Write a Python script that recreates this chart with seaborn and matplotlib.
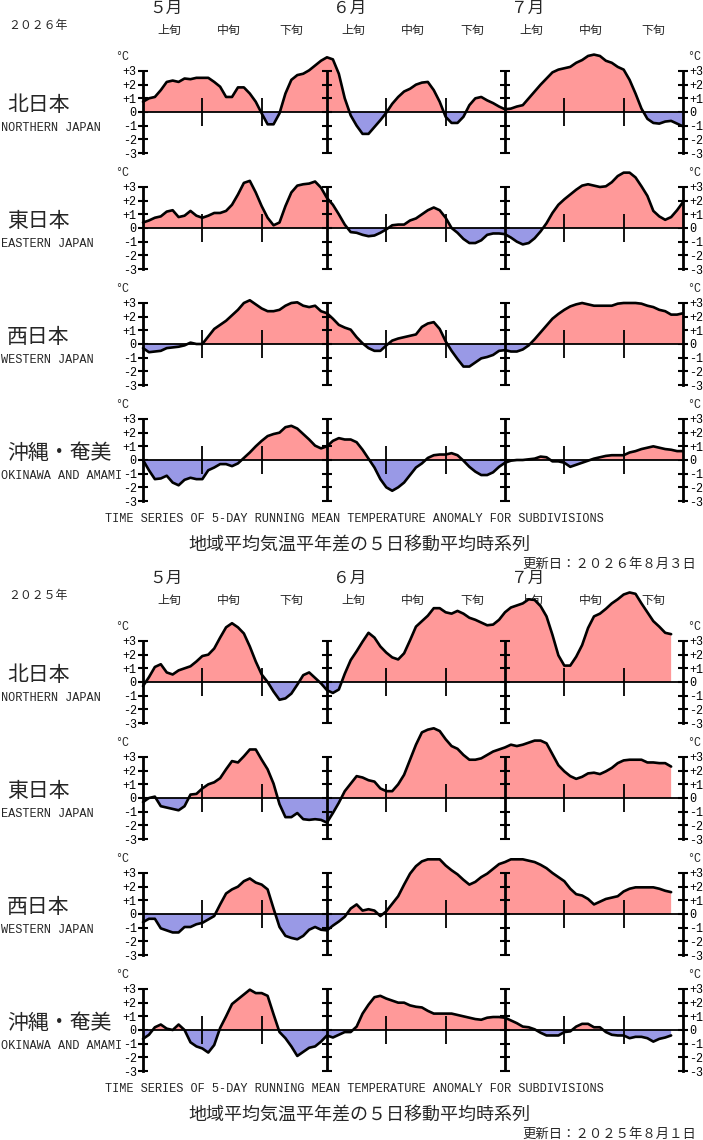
import numpy as np
import matplotlib
matplotlib.use("Agg")
import matplotlib.pyplot as plt
import matplotlib.transforms as mtransforms
import seaborn as sns

# 5-day running mean anomaly (degC), one value per day from May 1
n26 = [0.75, 1.0, 1.1, 1.6, 2.2, 2.3, 2.2, 2.45, 2.4, 2.5,
       2.5, 2.5, 2.2, 1.85, 1.1, 1.1, 1.8, 1.8, 1.35, 0.75,
       -0.1, -0.9, -0.9, -0.1, 1.35, 2.35, 2.7, 2.8, 3.05, 3.4,
       3.75, 4.0, 3.85, 2.8, 1.0, -0.25, -1.0, -1.6, -1.6, -1.1,
       -0.6, -0.05, 0.6, 1.1, 1.5, 1.7, 2.0, 2.15, 2.2, 1.6,
       0.75, -0.35, -0.8, -0.8, -0.35, 0.5, 1.0, 1.1, 0.85, 0.65,
       0.4, 0.2, 0.25, 0.4, 0.5, 1.0, 1.5, 2.0, 2.45, 2.9,
       3.1, 3.2, 3.3, 3.6, 3.8, 4.1, 4.2, 4.1, 3.75, 3.6,
       3.3, 3.1, 2.35, 1.35, 0.25, -0.5, -0.8, -0.85, -0.7, -0.65,
       -0.85, -1.05]
e26 = [0.4, 0.55, 0.75, 0.85, 1.2, 1.3, 0.8, 0.9, 1.25, 0.9,
       0.75, 0.9, 1.1, 1.1, 1.25, 1.7, 2.45, 3.3, 3.45, 2.6,
       1.6, 0.75, 0.2, 0.4, 1.6, 2.6, 3.1, 3.2, 3.25, 3.4,
       2.95, 2.2, 1.7, 1.0, 0.25, -0.3, -0.35, -0.5, -0.6, -0.55,
       -0.35, -0.1, 0.2, 0.25, 0.25, 0.55, 0.7, 1.0, 1.3, 1.5,
       1.3, 0.75, 0.0, -0.35, -0.8, -1.1, -1.1, -0.9, -0.5, -0.4,
       -0.4, -0.45, -0.7, -1.0, -1.2, -1.1, -0.75, -0.25, 0.35, 1.1,
       1.7, 2.1, 2.45, 2.8, 3.1, 3.2, 3.1, 3.0, 3.05, 3.35,
       3.8, 4.05, 4.05, 3.7, 3.05, 2.35, 1.25, 0.85, 0.6, 0.8,
       1.3, 1.9]
w26 = [-0.3, -0.6, -0.55, -0.5, -0.3, -0.25, -0.2, -0.1, 0.1, 0.0,
       0.0, 0.55, 1.1, 1.4, 1.7, 2.1, 2.5, 3.0, 3.2, 2.9,
       2.6, 2.4, 2.4, 2.5, 2.8, 3.0, 3.05, 2.8, 2.7, 2.8,
       2.4, 2.25, 1.85, 1.4, 1.2, 1.05, 0.5, 0.05, -0.3, -0.5,
       -0.5, -0.1, 0.25, 0.4, 0.5, 0.6, 0.7, 1.25, 1.5, 1.6,
       1.1, 0.2, -0.5, -1.1, -1.65, -1.65, -1.35, -1.05, -0.95, -0.8,
       -0.5, -0.45, -0.55, -0.55, -0.4, -0.1, 0.35, 0.85, 1.35, 1.85,
       2.2, 2.5, 2.75, 2.9, 3.0, 2.9, 2.8, 2.8, 2.8, 2.8,
       2.95, 3.0, 3.0, 3.0, 2.95, 2.8, 2.7, 2.5, 2.4, 2.15,
       2.15, 2.25]
o26 = [0.0, -0.75, -1.4, -1.35, -1.15, -1.65, -1.85, -1.45, -1.3, -1.4,
       -1.4, -0.75, -0.55, -0.3, -0.3, -0.45, -0.25, 0.15, 0.55, 1.0,
       1.4, 1.75, 1.9, 2.0, 2.4, 2.5, 2.3, 1.9, 1.5, 1.05,
       0.85, 1.0, 1.4, 1.6, 1.5, 1.5, 1.3, 0.75, 0.1, -0.55,
       -1.4, -2.0, -2.25, -2.0, -1.65, -1.1, -0.55, -0.25, 0.15, 0.35,
       0.4, 0.4, 0.5, 0.35, -0.05, -0.5, -0.85, -1.1, -1.1, -0.9,
       -0.5, -0.2, -0.05, 0.0, 0.0, 0.05, 0.1, 0.25, 0.2, -0.1,
       -0.1, -0.2, -0.5, -0.35, -0.2, -0.05, 0.1, 0.2, 0.3, 0.35,
       0.35, 0.35, 0.55, 0.65, 0.8, 0.9, 1.0, 0.9, 0.8, 0.75,
       0.65, 0.65]

n25 = [-0.3, 0.35, 1.1, 1.3, 0.7, 0.55, 0.85, 1.0, 1.15, 1.5,
       1.9, 2.0, 2.45, 3.25, 4.0, 4.3, 4.0, 3.55, 2.6, 1.5,
       0.55, 0.0, -0.7, -1.3, -1.2, -0.85, -0.2, 0.5, 0.7, 0.3,
       -0.1, -0.6, -0.8, -0.55, 0.6, 1.6, 2.25, 2.95, 3.6, 3.25,
       2.6, 2.15, 1.8, 1.65, 2.1, 3.05, 4.05, 4.45, 4.85, 5.4,
       5.4, 5.1, 5.0, 5.2, 5.0, 4.7, 4.55, 4.35, 4.15, 4.2,
       4.55, 5.1, 5.45, 5.6, 5.75, 6.05, 6.0, 5.55, 4.8, 3.45,
       1.95, 1.2, 1.2, 1.85, 2.7, 3.95, 4.8, 5.0, 5.35, 5.75,
       6.05, 6.4, 6.55, 6.45, 5.75, 5.1, 4.45, 4.05, 3.6, 3.5]
e25 = [-0.3, 0.0, 0.1, -0.6, -0.7, -0.8, -0.9, -0.6, 0.25, 0.3,
       0.7, 1.0, 1.15, 1.45, 2.1, 2.7, 2.6, 3.05, 3.55, 3.55,
       2.8, 2.1, 1.05, -0.45, -1.4, -1.4, -1.1, -1.55, -1.6, -1.55,
       -1.6, -1.8, -1.1, -0.35, 0.5, 1.05, 1.6, 1.5, 1.3, 1.2,
       0.7, 0.5, 0.5, 1.0, 1.7, 2.8, 3.9, 4.8, 5.0, 5.1,
       4.9, 4.3, 3.8, 3.6, 3.15, 2.8, 2.8, 2.9, 3.15, 3.4,
       3.55, 3.7, 3.9, 3.8, 3.9, 4.05, 4.2, 4.2, 4.0, 3.2,
       2.4, 1.95, 1.6, 1.4, 1.55, 1.8, 1.85, 1.75, 1.95, 2.2,
       2.55, 2.75, 2.8, 2.8, 2.8, 2.6, 2.6, 2.55, 2.55, 2.3]
w25 = [-0.6, -0.35, -0.35, -1.05, -1.2, -1.35, -1.35, -0.95, -0.95, -0.75,
       -0.65, -0.4, -0.15, 0.7, 1.5, 1.8, 2.0, 2.4, 2.6, 2.3,
       2.15, 1.8, 0.4, -0.95, -1.6, -1.75, -1.85, -1.6, -1.15, -0.95,
       -1.15, -1.2, -0.85, -0.55, -0.2, 0.4, 0.7, 0.25, 0.35, 0.25,
       -0.15, 0.2, 0.75, 1.3, 2.15, 2.95, 3.5, 3.85, 4.0, 4.0,
       4.0, 3.55, 3.2, 2.9, 2.5, 2.15, 2.35, 2.7, 2.95, 3.3,
       3.65, 3.8, 4.0, 4.0, 4.0, 3.9, 3.8, 3.6, 3.35, 3.0,
       2.7, 2.4, 1.85, 1.45, 1.35, 1.1, 0.7, 0.9, 1.1, 1.2,
       1.3, 1.65, 1.85, 1.95, 1.95, 1.95, 1.95, 1.85, 1.7, 1.6]
o25 = [-0.65, -0.35, 0.2, 0.4, 0.1, 0.0, 0.4, 0.0, -0.9, -1.2,
       -1.35, -1.65, -1.1, 0.15, 1.0, 1.9, 2.25, 2.6, 2.95, 2.7,
       2.7, 2.5, 1.15, -0.15, -0.6, -1.2, -1.9, -1.6, -1.3, -1.2,
       -0.85, -0.4, -0.55, -0.35, -0.15, -0.15, 0.25, 1.2, 1.85, 2.4,
       2.5, 2.3, 2.15, 2.0, 2.0, 1.8, 1.7, 1.65, 1.4, 1.2,
       1.2, 1.2, 1.2, 1.1, 1.0, 0.9, 0.8, 0.75, 0.9, 0.95,
       0.95, 0.9, 0.7, 0.5, 0.25, 0.2, 0.05, -0.2, -0.4, -0.4,
       -0.4, -0.15, -0.1, 0.25, 0.45, 0.45, 0.2, 0.2, -0.15, -0.35,
       -0.4, -0.4, -0.6, -0.5, -0.5, -0.6, -0.85, -0.65, -0.55, -0.4]

regions_jp = ["北日本", "東日本", "西日本", "沖縄・奄美"]
regions_en = ["NORTHERN JAPAN", "EASTERN JAPAN", "WESTERN JAPAN", "OKINAWA AND AMAMI"]
months = ["５月", "６月", "７月"]
month_start = [0, 31, 61]          # day index of May 1, Jun 1, Jul 1
dekads = ["上旬", "中旬", "下旬"]
dekad_mid = [4.5, 14.5, 25, 35.5, 45.5, 55.5, 65.5, 75.5, 86]
dekad_marks = [10, 20, 41, 51, 71, 81]
tick_vals = [-3, -2, -1, 0, 1, 2, 3]
tick_labels = ["-3", "-2", "-1", "0", "+1", "+2", "+3"]
years = ["２０２６年", "２０２５年"]
updated = ["更新日：２０２６年８月３日", "更新日：２０２５年８月１日"]
title_en = "TIME SERIES OF 5-DAY RUNNING MEAN TEMPERATURE ANOMALY FOR SUBDIVISIONS"
title_jp = "地域平均気温平年差の５日移動平均時系列"

sns.set_theme(style="white")
plt.rcParams['font.family'] = ['Noto Sans CJK JP', 'DejaVu Sans']
MONO = 'Liberation Mono'
PINK = "#ff9999"
BLUE = "#9999e6"

W, H = 703, 1140
fig = plt.figure(figsize=(W / 100, H / 100), dpi=100)

X0, X1 = 143, 683
PX_DEG = 13.67
YLO, YHI = -4.0, 7.2


def fy(py):
    return 1 - py / H


def draw_sub(zero_px, vals):
    bottom_px = zero_px - YLO * PX_DEG
    top_px = zero_px - YHI * PX_DEG
    ax = fig.add_axes([X0 / W, fy(bottom_px), (X1 - X0) / W, (bottom_px - top_px) / H])
    ax.patch.set_alpha(0)
    ax.set_xlim(0, 91)
    ax.set_ylim(YLO, YHI)
    days = np.arange(len(vals))
    v = np.array(vals)
    ax.fill_between(days, v, 0, where=v >= 0, interpolate=True, color=PINK, lw=0)
    ax.fill_between(days, v, 0, where=v <= 0, interpolate=True, color=BLUE, lw=0)
    ax.axhline(0, color="black", lw=1.3)
    # inner month axes and dekad marks
    ax.vlines(month_start[1:], -3, 3, color="black", lw=2)
    for d in month_start[1:]:
        ax.plot([d] * len(tick_vals), tick_vals, ls="none", marker="_",
                ms=7, mew=1.5, color="black")
    ax.vlines(dekad_marks, -1, 1, color="black", lw=1.3)
    sns.lineplot(x=days, y=v, ax=ax, color="black", lw=1.9, clip_on=False)

    for s in ["top", "bottom"]:
        ax.spines[s].set_visible(False)
    for s in ["left", "right"]:
        ax.spines[s].set_bounds(-3, 3)
        ax.spines[s].set_linewidth(2)
        ax.spines[s].set_color("black")
    ax.set_xticks([])
    ax.set_yticks(tick_vals, tick_labels)
    ax.tick_params(axis="y", left=True, right=True, labelleft=True, labelright=True,
                   direction="inout", length=7, width=1.5, pad=1,
                   labelsize=8.5, colors="black")
    for t in ax.yaxis.get_major_ticks():
        t.label1.set_fontfamily(MONO)
        t.label2.set_fontfamily(MONO)
    ax.text(-3.5, 4.0, "°C", ha="center", va="center", fontsize=8.5, family=MONO)
    ax.text(92.9, 4.0, "°C", ha="center", va="center", fontsize=8.5, family=MONO)
    return ax


panels = [(0, [n26, e26, w26, o26]), (570, [n25, e25, w25, o25])]
for p, (off, series) in enumerate(panels):
    axes = []
    for k, vals in enumerate(series):
        zero_px = off + 112 + 116 * k
        axes.append(draw_sub(zero_px, vals))
        fig.text(7 / W, fy(zero_px - 7), regions_jp[k], fontsize=15,
                 ha="left", va="center")
        fig.text(1 / W, fy(zero_px + 16), regions_en[k], family=MONO,
                 fontsize=8.6, ha="left", va="center")

    tr = mtransforms.blended_transform_factory(axes[0].transData, fig.transFigure)
    for m, name in enumerate(months):
        axes[0].text(dekad_mid[3 * m] - 0.6, fy(off + 8.5), name, transform=tr,
                     fontsize=12, ha="center", va="center")
    for j, xm in enumerate(dekad_mid):
        axes[0].text(xm, fy(off + 30.5), dekads[j % 3], transform=tr, fontsize=8.6,
                     ha="center", va="center", zorder=-1)
    fig.text(8 / W, fy(off + 25), years[p], fontsize=8.6, ha="left", va="center")

    fig.text(354 / W, fy(off + 519), title_en, family=MONO, fontsize=8.6,
             ha="center", va="center")
    fig.text(359 / W, fy(off + 546), title_jp, fontsize=13, ha="center", va="center")
    fig.text(696 / W, fy(off + 564), updated[p], fontsize=9.6, ha="right", va="center")

fig.savefig("out.png", dpi=100)
